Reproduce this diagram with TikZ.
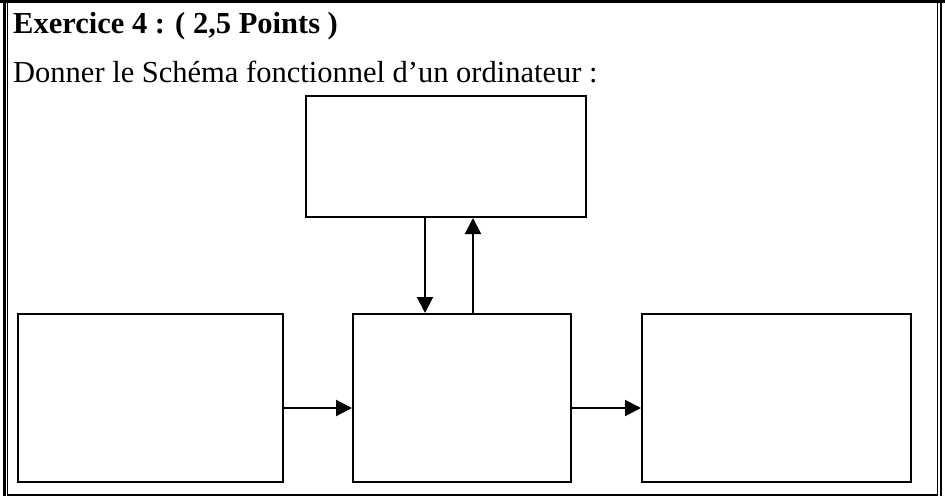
\documentclass[tikz,border=0pt]{standalone}
\usepackage{fontspec}
\setmainfont{Liberation Serif}
\usetikzlibrary{arrows.meta}

\tikzset{
  boite/.style={draw,line width=2pt,rectangle,inner sep=0pt,anchor=north west},
  fleche/.style={line width=2pt,-{Triangle[length=16pt,width=16pt]}},
  texte/.style={anchor=base west,inner sep=0pt,font=\fontsize{30.5}{36}\selectfont}
}

\begin{document}
\begin{tikzpicture}[x=1pt,y=-1pt]
%					Cadre de la page :
					\useasboundingbox (0,0) rectangle (945,496);
					\fill[white] (0,0) rectangle (945,496);
					\draw[line width=3pt] (0,1.5) -- (945,1.5);
					\draw[line width=2.5pt] (4.5,0) -- (4.5,496);
					\draw[line width=1pt] (7.5,0) -- (7.5,496);
					\draw[line width=1pt] (937.5,0) -- (937.5,496);
					\draw[line width=2pt] (940.5,0) -- (940.5,496);
					\draw[line width=1.2pt] (7.5,495) -- (937.5,495);
%					Textes :
					\node[texte] (titre) at (13,33) {\bfseries Exercice 4 : ( 2,5 Points )};
					\node[texte] (consigne) at (13,82) {Donner le Schéma fonctionnel d’un ordinateur :};
%					Les boîtes :
					\node[boite,minimum width=280pt,minimum height=121pt] (haut) at (305,95) {};
					\node[boite,minimum width=265pt,minimum height=168pt] (gauche) at (17,313) {};
					\node[boite,minimum width=218pt,minimum height=168pt] (milieu) at (352,313) {};
					\node[boite,minimum width=269pt,minimum height=168pt] (droite) at (641,313) {};
%					Les flèches :
					\draw[fleche] (gauche.east |- 0,408) -- (milieu.west |- 0,408);
					\draw[fleche] (milieu.east |- 0,408) -- (droite.west |- 0,408);
					\draw[fleche] (haut.south -| 425,0) -- (milieu.north -| 425,0);
					\draw[fleche] (milieu.north -| 473,0) -- (haut.south -| 473,0);
				\end{tikzpicture}
\end{document}
